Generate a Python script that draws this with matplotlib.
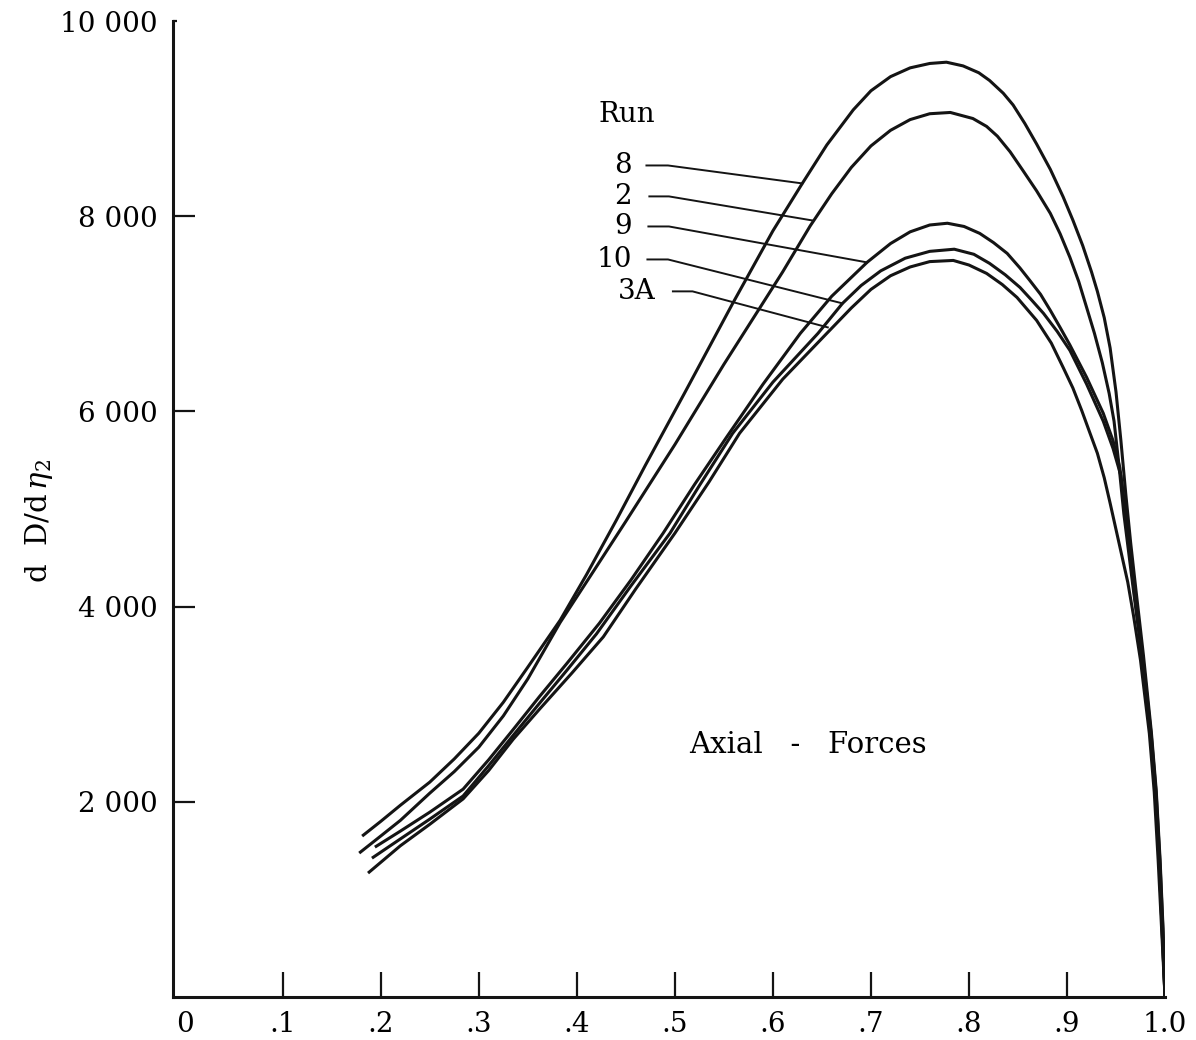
import matplotlib
matplotlib.use("Agg")
import matplotlib.pyplot as plt

plt.rcParams['font.family'] = 'DejaVu Serif'
plt.rcParams['mathtext.fontset'] = 'dejavuserif'

# spanwise station eta_2 and axial force loading dD/deta_2, one pair per run
run8_eta = [0.181, 0.20, 0.22, 0.25, 0.275, 0.30, 0.325, 0.35, 0.383, 0.41, 0.44, 0.47,
            0.51, 0.559, 0.60, 0.63, 0.655, 0.682, 0.70, 0.72, 0.74, 0.76, 0.777, 0.794,
            0.81, 0.821, 0.835, 0.845, 0.857, 0.869, 0.883, 0.896, 0.906, 0.916, 0.925,
            0.931, 0.938, 0.944, 0.950, 0.955, 0.960, 0.965, 0.970, 0.978, 0.986, 0.991,
            0.995, 0.998, 1.0]
run8_dd = [1649, 1800, 1965, 2202, 2440, 2703, 3020, 3380, 3861, 4330, 4880, 5450,
           6190, 7107, 7850, 8336, 8730, 9090, 9285, 9430, 9520, 9565, 9578, 9540,
           9470, 9391, 9260, 9140, 8950, 8740, 8480, 8200, 7960, 7700, 7430,
           7230, 6960, 6650, 6200, 5700, 5150, 4650, 4200, 3500, 2720, 2120,
           1400, 700, 0]

run2_eta = [0.178, 0.20, 0.22, 0.25, 0.275, 0.30, 0.325, 0.35, 0.383, 0.413, 0.45, 0.50,
            0.55, 0.587, 0.61, 0.638, 0.66, 0.68, 0.70, 0.72, 0.74, 0.76, 0.781, 0.804,
            0.818, 0.829, 0.842, 0.855, 0.869, 0.883, 0.893, 0.903, 0.912, 0.920, 0.928,
            0.936, 0.943, 0.948, 0.953, 0.958, 0.963, 0.968, 0.977, 0.985, 0.990, 0.994,
            0.997, 1.0]
run2_dd = [1475, 1650, 1810, 2089, 2310, 2560, 2880, 3260, 3838, 4301, 4874, 5660,
           6482, 7066, 7430, 7900, 8230, 8500, 8720, 8880, 8990, 9050, 9063, 9001,
           8920, 8820, 8660, 8469, 8260, 8029, 7820, 7578, 7330, 7066, 6800,
           6500, 6185, 5900, 5450, 4950, 4550, 4150, 3450, 2700, 2100, 1400,
           700, 0]

run9_eta = [0.194, 0.22, 0.25, 0.284, 0.31, 0.335, 0.362, 0.39, 0.423, 0.455, 0.488, 0.52,
            0.553, 0.59, 0.628, 0.66, 0.696, 0.72, 0.74, 0.76, 0.778, 0.795, 0.811, 0.825,
            0.839, 0.852, 0.862, 0.873, 0.883, 0.893, 0.903, 0.920, 0.937, 0.947, 0.954,
            0.959, 0.963, 0.968, 0.977, 0.985, 0.990, 0.994, 0.997, 1.0]
run9_dd = [1536, 1700, 1894, 2130, 2430, 2740, 3080, 3420, 3830, 4270, 4752, 5250,
           5740, 6280, 6800, 7180, 7527, 7720, 7840, 7910, 7928, 7895, 7824, 7730,
           7619, 7470, 7343, 7200, 7035, 6860, 6680, 6350, 5981, 5700, 5420,
           5000, 4650, 4200, 3460, 2710, 2110, 1400, 700, 0]

run10_eta = [0.191, 0.22, 0.25, 0.284, 0.31, 0.335, 0.362, 0.39, 0.42, 0.455, 0.495, 0.525,
             0.559, 0.60, 0.646, 0.671, 0.69, 0.71, 0.735, 0.76, 0.785, 0.805, 0.821, 0.837,
             0.852, 0.864, 0.876, 0.89, 0.903, 0.920, 0.937, 0.947, 0.955, 0.960, 0.964,
             0.969, 0.978, 0.986, 0.991, 0.995, 0.998, 1.0]
run10_dd = [1423, 1620, 1823, 2060, 2370, 2680, 3011, 3350, 3720, 4210, 4752, 5240,
            5776, 6300, 6800, 7107, 7290, 7440, 7570, 7640, 7662, 7610, 7517, 7400,
            7271, 7140, 7005, 6820, 6625, 6280, 5900, 5620, 5340, 4950, 4600,
            4150, 3420, 2680, 2080, 1350, 650, 0]

run3a_eta = [0.187, 0.22, 0.25, 0.284, 0.31, 0.335, 0.362, 0.395, 0.427, 0.46, 0.50, 0.535,
             0.566, 0.61, 0.655, 0.68, 0.70, 0.72, 0.74, 0.76, 0.784, 0.80, 0.818, 0.834,
             0.849, 0.869, 0.884, 0.896, 0.906, 0.915, 0.923, 0.931, 0.938, 0.944, 0.950,
             0.956, 0.962, 0.968, 0.975, 0.984, 0.989, 0.993, 0.997, 1.0]
run3a_dd = [1270, 1550, 1770, 2030, 2320, 2640, 2950, 3320, 3690, 4180, 4752, 5280,
            5776, 6330, 6800, 7060, 7250, 7390, 7480, 7535, 7547, 7500, 7414, 7300,
            7168, 6933, 6700, 6452, 6240, 6010, 5790, 5571, 5320, 5060, 4790,
            4520, 4250, 3900, 3450, 2700, 2100, 1400, 600, 0]

x_ticks = [0, 0.1, 0.2, 0.3, 0.4, 0.5, 0.6, 0.7, 0.8, 0.9, 1.0]
x_tick_labels = ['0', '.1', '.2', '.3', '.4', '.5', '.6', '.7', '.8', '.9', '1.0']
y_ticks = [2000, 4000, 6000, 8000, 10000]
y_tick_labels = ['2 000', '4 000', '6 000', '8 000', '10 000']

ink = '#141414'

fig = plt.figure(figsize=(11.96, 10.4), dpi=100)
ax = fig.add_axes([0.1446, 0.0413, 0.8295, 0.9385])

for eta, dd in [(run8_eta, run8_dd), (run2_eta, run2_dd), (run9_eta, run9_dd),
                (run10_eta, run10_dd), (run3a_eta, run3a_dd)]:
    ax.plot(eta, dd, color=ink, lw=2.2, solid_joinstyle='round', solid_capstyle='butt')

ax.set_xlim(-0.012, 1.0)
ax.set_ylim(0, 10000)

for side in ['top', 'right']:
    ax.spines[side].set_visible(False)
for side in ['left', 'bottom']:
    ax.spines[side].set_linewidth(2.2)
    ax.spines[side].set_color(ink)

ax.set_xticks(x_ticks)
ax.set_xticklabels(x_tick_labels)
ax.set_yticks(y_ticks)
ax.set_yticklabels(y_tick_labels)
ax.tick_params(axis='x', direction='in', length=18, width=1.6, pad=10,
               labelsize=20, color=ink)
ax.tick_params(axis='y', direction='in', length=16, width=1.6, pad=11,
               labelsize=20, color=ink)
xt = ax.xaxis.get_major_ticks()
xt[0].tick1line.set_visible(False)
xt[-1].tick1line.set_visible(False)
ax.yaxis.get_major_ticks()[-1].tick1line.set_markersize(3)

ax.set_ylabel(r'd  D/d$\,\eta_2$', fontsize=21)
ax.yaxis.set_label_coords(-0.119, 0.488)

# run legend with leader lines to each curve
ax.text(0.451, 9040, 'Run', fontsize=20, ha='center', va='center')
leaders = [
    ('8', 0.456, 8520, [0.471, 0.493, 0.630], [8520, 8520, 8336]),
    ('2', 0.456, 8203, [0.474, 0.494, 0.640], [8203, 8203, 7957]),
    ('9', 0.456, 7895, [0.473, 0.494, 0.696], [7895, 7895, 7527]),
    ('10', 0.456, 7557, [0.472, 0.493, 0.671], [7557, 7557, 7107]),
    ('3A', 0.480, 7230, [0.498, 0.518, 0.656], [7230, 7230, 6861]),
]
for name, tx, ty, lx, ly in leaders:
    ax.text(tx, ty, name, fontsize=20, ha='right', va='center')
    ax.plot(lx, ly, color=ink, lw=1.4)

ax.text(0.636, 2580, 'Axial   -   Forces', fontsize=21, ha='center', va='center')

fig.savefig('out.png', dpi=100, facecolor='white')
